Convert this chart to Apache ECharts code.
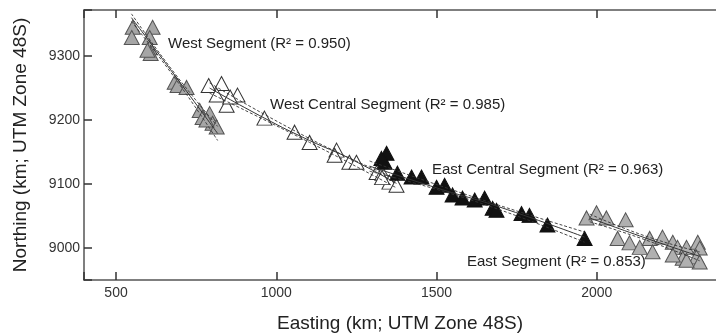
<!DOCTYPE html>
<html>
<head>
<meta charset="utf-8">
<script src="https://cdn.jsdelivr.net/npm/echarts@6/dist/echarts.min.js"></script>
<style>
  html, body { margin: 0; padding: 0; background: #fff; }
  #chart { width: 716px; height: 334px; }
</style>
</head>
<body>
<div id="chart"></div>
<script>
// tick labels
var xTicks = [500, 1000, 1500, 2000];
var yTicks = [9000, 9100, 9200, 9300];

// point data [easting, northing]
var westPts = [
  [552, 9345], [549, 9329], [614, 9345], [605, 9329], [605, 9313], [608, 9304], [598, 9309],
  [683, 9259], [692, 9254], [720, 9251],
  [761, 9215], [792, 9210], [770, 9204], [801, 9195], [814, 9189], [782, 9200]
];
var westCentralPts = [
  [789, 9254], [829, 9257], [879, 9239], [814, 9239], [845, 9223], [856, 9236],
  [963, 9203], [1057, 9181], [1104, 9165], [1188, 9153], [1182, 9145],
  [1228, 9134], [1250, 9134], [1313, 9118], [1331, 9117], [1353, 9103], [1375, 9098], [1330, 9110]
];
var eastCentralPts = [
  [1344, 9148], [1338, 9134], [1328, 9140], [1378, 9117], [1422, 9111], [1453, 9111],
  [1500, 9095], [1525, 9098], [1550, 9083], [1581, 9078], [1619, 9075], [1650, 9078],
  [1675, 9062], [1687, 9059], [1765, 9054], [1790, 9051], [1846, 9036], [1962, 9015]
];
var eastPts = [
  [1968, 9047], [1999, 9055], [2030, 9047], [2090, 9044], [2065, 9015], [2102, 9008],
  [2134, 9001], [2165, 9015], [2205, 9017], [2237, 9009], [2252, 9001], [2280, 9001],
  [2315, 9009], [2321, 9000], [2311, 8986], [2268, 8984], [2321, 8978], [2174, 8994],
  [2237, 8989], [2280, 8981]
];

// fitted lines and confidence bands
var westFit = [[548, 9360], [683, 9270], [817, 9179]];
var westUpper = [[548, 9366], [683, 9273], [817, 9190]];
var westLower = [[548, 9354], [683, 9266], [817, 9168]];
var westCentralFit = [[792, 9250], [963, 9203], [1104, 9168], [1229, 9140], [1375, 9101]];
var westCentralUpper = [[792, 9258], [1104, 9171], [1375, 9108]];
var westCentralLower = [[792, 9242], [1104, 9165], [1375, 9094]];
var eastCentralFit = [[1291, 9128], [1500, 9094], [1697, 9064], [1962, 9017]];
var eastCentralUpper = [[1291, 9136], [1620, 9079], [1962, 9025]];
var eastCentralLower = [[1291, 9120], [1620, 9073], [1962, 9009]];
var eastFit = [[1978, 9047], [2150, 9016], [2321, 8987]];
var eastUpper = [[1978, 9053], [2150, 9019], [2321, 8994]];
var eastLower = [[1978, 9041], [2150, 9013], [2321, 8980]];

var font = 'Liberation Sans, Arial, sans-serif';
var axisColor = '#555';

function pts(name, data, fill, border) {
  return {
    name: name,
    type: 'scatter',
    data: data,
    symbol: 'triangle',
    symbolSize: [15, 14],
    itemStyle: { color: fill, borderColor: border, borderWidth: 1, opacity: 1 },
    z: 2,
    silent: true
  };
}
function line(data, dashed) {
  return {
    type: 'line',
    data: data,
    smooth: true,
    symbol: 'none',
    lineStyle: { color: '#333', width: dashed ? 0.9 : 1, type: dashed ? [3, 2] : 'solid' },
    z: 3,
    silent: true
  };
}
// only the listed tick values get a label
function only(list) {
  return function (v) { return list.indexOf(v) >= 0 ? String(v) : ''; };
}
function tick() {
  return { show: true, inside: true, length: 8, lineStyle: { color: '#333', width: 1.5 } };
}

var chart = echarts.init(document.getElementById('chart'));
chart.setOption({
  animation: false,
  grid: { left: 84, top: 10, bottom: 54, right: -9, outerBoundsMode: 'none', containLabel: false },
  xAxis: [{
    type: 'value', min: 400, max: 2400, position: 'bottom',
    name: 'Easting (km; UTM Zone 48S)', nameLocation: 'middle', nameGap: 34,
    nameTextStyle: { fontFamily: font, fontSize: 19, color: '#222', padding: [0, 9, 0, 0] },
    axisLine: { lineStyle: { color: axisColor, width: 1.5 } },
    axisTick: tick(),
    axisLabel: { formatter: only(xTicks), fontFamily: font, fontSize: 14, color: '#333', margin: 6 },
    splitLine: { show: false }
  }, {
    type: 'value', min: 400, max: 2400, position: 'top',
    axisLine: { lineStyle: { color: axisColor, width: 1.5 } },
    axisTick: tick(),
    axisLabel: { show: false },
    splitLine: { show: false }
  }],
  yAxis: [{
    type: 'value', min: 8950, max: 9372, position: 'left',
    name: 'Northing (km; UTM Zone 48S)', nameLocation: 'middle', nameGap: 54,
    nameTextStyle: { fontFamily: font, fontSize: 19, color: '#222' },
    axisLine: { lineStyle: { color: axisColor, width: 1.5 } },
    axisTick: tick(),
    axisLabel: { formatter: only(yTicks), fontFamily: font, fontSize: 14, color: '#333', margin: 4 },
    splitLine: { show: false }
  }],
  series: [
    pts('West Central', westCentralPts, '#fff', '#333'),
    pts('West', westPts, '#a6a6a6', '#555'),
    pts('East Central', eastCentralPts, '#111', '#111'),
    pts('East', eastPts, '#b0b0b0', '#555'),
    line(westFit, false), line(westUpper, true), line(westLower, true),
    line(westCentralFit, false), line(westCentralUpper, true), line(westCentralLower, true),
    line(eastCentralFit, false), line(eastCentralUpper, true), line(eastCentralLower, true),
    line(eastFit, false), line(eastUpper, true), line(eastLower, true)
  ],
  graphic: [
    { type: 'text', left: 168, top: 36, style: { text: 'West Segment (R² = 0.950)', font: '15px ' + font, fill: '#222' } },
    { type: 'text', left: 270, top: 97, style: { text: 'West Central Segment (R² = 0.985)', font: '15px ' + font, fill: '#222' } },
    { type: 'text', left: 432, top: 162, style: { text: 'East Central Segment (R² = 0.963)', font: '15px ' + font, fill: '#222' } },
    { type: 'text', left: 467, top: 254, style: { text: 'East Segment (R² = 0.853)', font: '15px ' + font, fill: '#222' } }
  ]
});
</script>
</body>
</html>
